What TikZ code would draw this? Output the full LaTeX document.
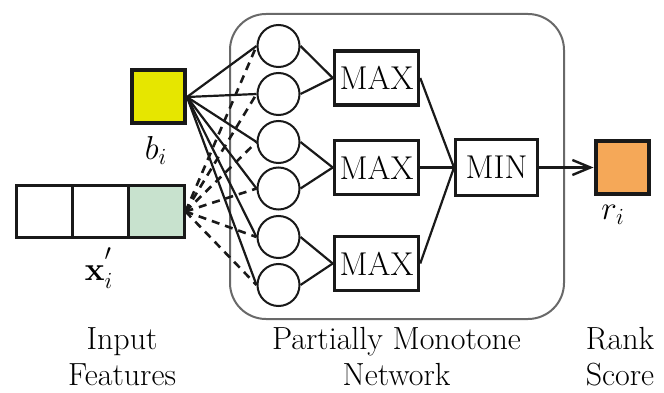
\RequirePackage{fix-cm}
\documentclass[tikz,border=0pt]{standalone}
\usetikzlibrary{arrows.meta}
\definecolor{ybox}{RGB}{230,230,0}
\definecolor{gbox}{RGB}{200,226,206}
\definecolor{obox}{RGB}{245,168,88}
\definecolor{framec}{RGB}{105,105,105}
\definecolor{ink}{RGB}{25,25,25}
\begin{document}
\begin{tikzpicture}[x=1pt,y=-1pt,
  neuron/.style={circle,draw=ink,line width=2pt,minimum size=42pt,inner sep=0pt},
  opbox/.style={draw=ink,line width=3.5pt,minimum width=84pt,minimum height=54pt,inner sep=0pt,font=\fontsize{33}{38}\selectfont},
  sqbox/.style={draw=ink,line width=4pt,minimum width=53pt,minimum height=53pt,inner sep=0pt},
  cell/.style={draw=ink,line width=3pt,minimum width=56pt,minimum height=52pt,inner sep=0pt},
  conn/.style={draw=ink,line width=2.2pt},
  dconn/.style={draw=ink,line width=2.6pt,dash pattern=on 8pt off 6pt},
  mathlabel/.style={font=\fontsize{20.74}{25}\selectfont,inner sep=0pt},
  caption/.style={font=\fontsize{32}{36.5}\selectfont,align=center,anchor=north,inner sep=0pt}]
\useasboundingbox (0,0) rectangle (664,393);

% network frame
\node[draw=framec,line width=2pt,rounded corners=36pt,minimum width=334pt,minimum height=305pt,inner sep=0pt] (net) at (397,166.5) {};

% inputs
\node[sqbox,fill=ybox] (b) at (158.5,97) {};
\node[mathlabel] (bl) at (156,150) {\scalebox{1.6}{$b_i$}};
\node[cell] (c1) at (44,211.5) {};
\node[cell] (c2) at (100,211.5) {};
\node[cell,fill=gbox] (c3) at (156,211.5) {};
\node[mathlabel] (xl) at (99,268) {\scalebox{1.6}{$\mathbf{x}_i^{\raisebox{5pt}{$\scriptstyle\prime$}}$}};

% neurons
\node[neuron] (n1) at (278.5,46) {};
\node[neuron] (n2) at (278.5,94) {};
\node[neuron] (n3) at (278.5,142) {};
\node[neuron] (n4) at (278.5,188.5) {};
\node[neuron] (n5) at (278.5,237) {};
\node[neuron] (n6) at (278.5,285) {};

% max / min
\node[opbox] (m1) at (376.5,78) {MAX};
\node[opbox] (m2) at (376.5,167.5) {MAX};
\node[opbox] (m3) at (376.5,263.5) {MAX};
\node[opbox,line width=3pt,minimum width=82pt,minimum height=56pt] (mn) at (496.5,167.5) {MIN};

% output
\node[sqbox,fill=obox] (r) at (622,167.5) {};
\node[mathlabel] (rl) at (613,215) {\scalebox{1.6}{$r_i$}};

% connections
\foreach \k in {1,...,6}{
  \draw[conn] (b.east) -- (n\k.west);
  \draw[dconn] (c3.east) -- (n\k.west);
}
\draw[conn] (n1.east) -- (m1.west);
\draw[conn] (n2.east) -- (m1.west);
\draw[conn] (n3.east) -- (m2.west);
\draw[conn] (n4.east) -- (m2.west);
\draw[conn] (n5.east) -- (m3.west);
\draw[conn] (n6.east) -- (m3.west);
\draw[conn] (m1.east) -- (mn.west);
\draw[conn] (m2.east) -- (mn.west);
\draw[conn] (m3.east) -- (mn.west);
\draw[conn,-{Straight Barb[length=18pt,width=15pt,line width=2.4pt]}] (mn.east) -- (r.west);

% captions
\node[caption] (t1) at (122,327) {Input\\Features};
\node[caption] (t2) at (396.5,327) {Partially Monotone\\Network};
\node[caption] (t3) at (620,327) {Rank\\Score};
\end{tikzpicture}
\end{document}
